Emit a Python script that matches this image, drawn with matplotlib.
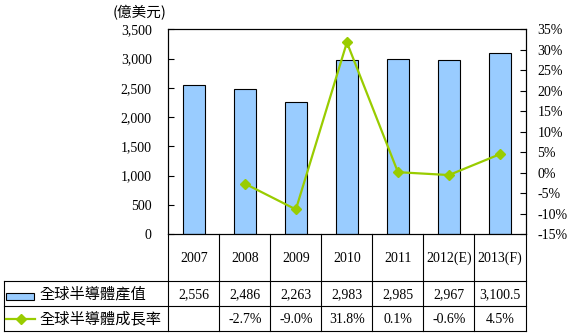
import numpy as np
import matplotlib
matplotlib.use("Agg")
import matplotlib.pyplot as plt
from matplotlib.ticker import FuncFormatter, MultipleLocator
from matplotlib.lines import Line2D
from matplotlib.patches import Rectangle

# ---- data ----
years = ["2007", "2008", "2009", "2010", "2011", "2012(E)", "2013(F)"]
output_values = [2556, 2486, 2263, 2983, 2985, 2967, 3100.5]
growth_rates = [np.nan, -2.7, -9.0, 31.8, 0.1, -0.6, 4.5]
series_bar_name = "全球半導體產值"
series_line_name = "全球半導體成長率"
unit_label = "(億美元)"

BAR_COLOR = "#99CCFF"
LINE_COLOR = "#99CC00"
NUM_FONT = "Liberation Serif"
CJK_FONT = ["Noto Sans CJK TC", "DejaVu Sans"]

W, H = 571, 335
fig = plt.figure(figsize=(W / 100, H / 100), dpi=100)

def fx(px):
    return px / W

def fy(py):
    return 1 - py / H

L, R, T, B = 168.3, 525.5, 29.3, 234.0
ax = fig.add_axes([fx(L), fy(B), fx(R) - fx(L), fy(T) - fy(B)])
x = np.arange(len(years))
ax.bar(x, output_values, width=0.43, color=BAR_COLOR, edgecolor="black", linewidth=0.8, zorder=2)
ax.set_xlim(-0.5, len(years) - 0.5)
ax.set_ylim(0, 3500)
ax.yaxis.set_major_locator(MultipleLocator(500))
ax.yaxis.set_major_formatter(FuncFormatter(lambda v, p: f"{v:,.0f}"))
ax.tick_params(axis="y", direction="in", length=4.5, width=0.8, pad=12, labelsize=10)
ax.tick_params(axis="x", bottom=False, labelbottom=False)
for lab in ax.get_yticklabels():
    lab.set_fontfamily(NUM_FONT)
for s in ax.spines.values():
    s.set_linewidth(0.8)

ax2 = ax.twinx()
ax2.plot(x, growth_rates, color=LINE_COLOR, linewidth=1.6, marker="D", markersize=5.2,
         markerfacecolor=LINE_COLOR, markeredgecolor=LINE_COLOR, zorder=3)
ax2.set_ylim(-15, 35)
ax2.yaxis.set_major_locator(MultipleLocator(5))
ax2.yaxis.set_major_formatter(FuncFormatter(lambda v, p: f"{int(round(v))}%"))
ax2.tick_params(axis="y", direction="in", length=4.5, width=0.8, pad=8.5, labelsize=10)
for lab in ax2.get_yticklabels():
    lab.set_fontfamily(NUM_FONT)
for s in ax2.spines.values():
    s.set_linewidth(0.8)

fig.text(fx(166), fy(13), unit_label, ha="right", va="center", fontsize=10.5, family=CJK_FONT)

# ---- data table ----
TL = 4.0
units_per_px = 1 / ((R - L) / len(years))
tax = fig.add_axes([fx(TL), fy(331), fx(R) - fx(TL), fy(B) - fy(331)])
tax.set_xlim(-0.5 - (L - TL) * units_per_px, len(years) - 0.5)
tax.set_ylim(331, B)
tax.axis("off")
xl = tax.get_xlim()[0]
lw = 0.8
rows_y = [281, 306, 331]
kw = dict(color="black", linewidth=lw, clip_on=False, solid_capstyle="projecting")
for i in range(len(years) + 1):
    tax.plot([i - 0.5, i - 0.5], [B, 331], **kw)
tax.plot([-0.5, len(years) - 0.5], [281, 281], **kw)
for yy in rows_y[1:]:
    tax.plot([xl, len(years) - 0.5], [yy, yy], **kw)
tax.plot([xl, xl], [281, 331], **kw)
tax.plot([xl, -0.5], [281, 281], **kw)

for i, yr in enumerate(years):
    tax.text(i, 258, yr, ha="center", va="center", fontsize=10, family=NUM_FONT)
    v = output_values[i]
    vs = f"{v:,.0f}" if float(v).is_integer() else f"{v:,.1f}"
    tax.text(i, 294.5, vs, ha="center", va="center", fontsize=10, family=NUM_FONT)
    g = growth_rates[i]
    if not np.isnan(g):
        tax.text(i, 319.5, f"{g:.1f}%", ha="center", va="center", fontsize=10, family=NUM_FONT)

# legend keys
px = units_per_px
tax.add_patch(Rectangle((xl + 2 * px, 292.5), 28 * px, 7.5, facecolor=BAR_COLOR,
                        edgecolor="black", linewidth=0.8, clip_on=False))
tax.plot([xl + 2 * px, xl + 31 * px], [319, 319], color=LINE_COLOR, linewidth=1.6, clip_on=False)
tax.plot([xl + 16.5 * px], [319], marker="D", markersize=5.2, color=LINE_COLOR, clip_on=False)
tax.text(xl + 35 * px, 294, series_bar_name, ha="left", va="center", fontsize=11, family=CJK_FONT)
tax.text(xl + 35 * px, 319, series_line_name, ha="left", va="center", fontsize=11, family=CJK_FONT)

fig.savefig("out.png", dpi=100)
